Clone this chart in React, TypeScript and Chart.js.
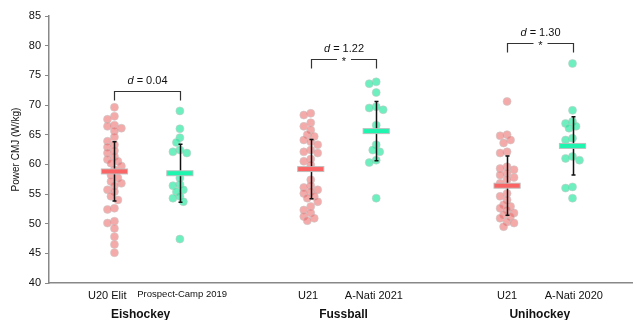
import React, { useEffect, useRef } from "react";
import { Chart, registerables } from "chart.js";

Chart.register(...registerables);

// ---------- data ----------
const tickLabels = ["U20 Elit", "Prospect-Camp 2019", "U21", "A-Nati 2021", "U21", "A-Nati 2020"];
const groupPositions = [0, 1, 3, 4, 6, 7];
const tickLabelPositions = [-0.11, 1.035, 2.96, 3.965, 6.0, 7.02];
const sports = ["Eishockey", "Fussball", "Unihockey"];
const sportPositions = [0.4, 3.5, 6.5];
const effectSizes = ["0.04", "1.22", "1.30"];
const significant = [false, true, true];
const bracketLevels = [72.4, 77.7, 80.4];

const u20Elit = [69.6, 68.1, 67.6, 66.6, 66.4, 66.1, 65.6, 64.6, 63.9, 63.3, 62.9, 62.3, 61.9, 61.3, 60.8, 60.5, 60.2, 59.7, 59.1, 58.2, 57.7, 57.1, 56.8, 56.4, 55.7, 55.4, 54.6, 54.0, 52.6, 52.4, 50.4, 50.1, 49.2, 47.8, 46.5, 45.1];
const prospectCamp = [69.0, 66.0, 64.5, 63.7, 62.4, 62.1, 61.9, 57.7, 56.6, 56.4, 55.7, 55.4, 54.6, 54.3, 53.7, 47.4];
const fussU21 = [68.6, 68.3, 67.0, 66.4, 65.8, 65.0, 64.7, 64.1, 63.8, 63.3, 62.4, 62.1, 61.9, 60.9, 60.5, 59.9, 57.4, 56.4, 56.1, 55.7, 55.4, 55.1, 54.6, 54.3, 53.7, 52.9, 52.3, 51.8, 51.2, 50.9, 50.5];
const fussANati = [73.9, 73.6, 72.1, 69.7, 69.5, 69.2, 66.6, 63.3, 62.4, 62.1, 60.7, 60.3, 54.3];
const uniU21 = [70.6, 65.0, 64.8, 64.1, 63.6, 62.1, 61.9, 59.6, 59.3, 59.1, 58.5, 58.2, 57.8, 57.4, 56.8, 55.1, 54.6, 54.0, 53.2, 52.9, 52.6, 52.3, 51.8, 51.5, 51.2, 50.9, 50.3, 50.1, 49.5];
const uniANati = [77.0, 69.1, 67.2, 66.9, 66.4, 66.1, 64.4, 64.1, 61.3, 61.0, 60.7, 56.2, 56.0, 54.3];

const groupValues = [u20Elit, prospectCamp, fussU21, fussANati, uniU21, uniANati];
const groupMeans = [58.8, 58.5, 59.2, 65.6, 56.4, 63.1];
const groupSDs = [5.0, 4.9, 5.0, 5.0, 5.0, 4.9];

const yTicks = [40, 45, 50, 55, 60, 65, 70, 75, 80, 85];

// ---------- styles ----------
const FONT = "'Liberation Sans', Arial, sans-serif";
const RED_PT = "rgba(236, 100, 100, 0.55)";
const GREEN_PT = "rgba(40, 232, 160, 0.68)";
const RED_BAR = "#FA6464";
const GREEN_BAR = "#1EF5AE";
const PX_PER_X = 66;
const PX_PER_Y = 5.93;

// deterministic compact beeswarm (pixel offsets converted to x units)
function swarm(values: number[], center: number) {
  const placed: { dx: number; y: number }[] = [];
  const cands = [0, -3.5, 3.5, -7, 7];
  const minD = 5.5;
  return values.map((v) => {
    const y = v * PX_PER_Y;
    let best = 0;
    let bestScore = -1;
    for (const c of cands) {
      const d = placed.reduce((m, p) => Math.min(m, Math.hypot(p.dx - c, p.y - y)), 999);
      if (d >= minD) { best = c; bestScore = 999; break; }
      if (d > bestScore) { bestScore = d; best = c; }
    }
    placed.push({ dx: best, y });
    return { x: center + best / PX_PER_X, y: v };
  });
}

const overlayPlugin = {
  id: "overlay",
  afterDatasetsDraw(chart: any) {
    const { ctx, scales } = chart;
    const xs = scales.x;
    const ys = scales.y;
    ctx.save();
    // error bars
    groupPositions.forEach((pos, i) => {
      const x = Math.round(xs.getPixelForValue(pos)) + 0.5;
      const top = ys.getPixelForValue(groupMeans[i] + groupSDs[i]);
      const bot = ys.getPixelForValue(groupMeans[i] - groupSDs[i]);
      ctx.strokeStyle = "#111";
      ctx.lineWidth = 1.5;
      ctx.beginPath();
      ctx.moveTo(x, top);
      ctx.lineTo(x, bot);
      ctx.moveTo(x - 2, top);
      ctx.lineTo(x + 2, top);
      ctx.moveTo(x - 2, bot);
      ctx.lineTo(x + 2, bot);
      ctx.stroke();
    });
    // mean bars
    groupPositions.forEach((pos, i) => {
      const x0 = xs.getPixelForValue(pos - 0.2);
      const x1 = xs.getPixelForValue(pos + 0.2);
      const y = ys.getPixelForValue(groupMeans[i]);
      ctx.fillStyle = i % 2 === 0 ? RED_BAR : GREEN_BAR;
      ctx.strokeStyle = "rgba(190,190,190,0.9)";
      ctx.lineWidth = 1;
      ctx.fillRect(x0, y - 2.5, x1 - x0, 5);
      ctx.strokeRect(x0, y - 2.5, x1 - x0, 5);
    });
    // brackets + effect sizes
    sports.forEach((_, s) => {
      const xa = Math.round(xs.getPixelForValue(groupPositions[2 * s])) + 0.5;
      const xb = Math.round(xs.getPixelForValue(groupPositions[2 * s + 1])) + 0.5;
      const yt = Math.round(ys.getPixelForValue(bracketLevels[s])) + 0.5;
      const yl = yt + 9;
      const xm = (xa + xb) / 2;
      ctx.strokeStyle = "#333";
      ctx.lineWidth = 1.2;
      ctx.beginPath();
      if (significant[s]) {
        ctx.moveTo(xa, yl);
        ctx.lineTo(xa, yt);
        ctx.lineTo(xm - 7, yt);
        ctx.moveTo(xm + 7, yt);
        ctx.lineTo(xb, yt);
        ctx.lineTo(xb, yl);
      } else {
        ctx.moveTo(xa, yl);
        ctx.lineTo(xa, yt);
        ctx.lineTo(xb, yt);
        ctx.lineTo(xb, yl);
      }
      ctx.stroke();
      ctx.fillStyle = "#111";
      ctx.textBaseline = "middle";
      if (significant[s]) {
        ctx.font = `11px ${FONT}`;
        ctx.textAlign = "center";
        ctx.fillText("*", xm, yt + 2);
      }
      const rest = " = " + effectSizes[s];
      ctx.font = `italic 11px ${FONT}`;
      const wd = ctx.measureText("d").width;
      ctx.font = `11px ${FONT}`;
      const wr = ctx.measureText(rest).width;
      const start = xm - (wd + wr) / 2;
      const ty = yt - 10.5;
      ctx.textAlign = "left";
      ctx.font = `italic 11px ${FONT}`;
      ctx.fillText("d", start, ty);
      ctx.font = `11px ${FONT}`;
      ctx.fillText(rest, start + wd, ty);
    });
    // sport labels
    ctx.font = `bold 12px ${FONT}`;
    ctx.fillStyle = "#111";
    ctx.textAlign = "center";
    ctx.textBaseline = "middle";
    sports.forEach((name, s) => {
      ctx.fillText(name, xs.getPixelForValue(sportPositions[s]), 315);
    });
    ctx.restore();
  },
};

export default function App() {
  const ref = useRef<HTMLCanvasElement | null>(null);
  useEffect(() => {
    if (!ref.current) return;
    const datasets = groupValues.map((vals, i) => ({
      label: tickLabels[i],
      data: swarm(vals, groupPositions[i]),
      backgroundColor: i % 2 === 0 ? RED_PT : GREEN_PT,
      borderColor: "rgba(200,200,200,0.55)",
      borderWidth: 1,
      pointRadius: 4,
      pointHoverRadius: 4,
    }));
    const chart = new Chart(ref.current, {
      type: "scatter",
      data: { datasets },
      plugins: [overlayPlugin],
      options: {
        animation: false,
        responsive: false,
        layout: { padding: { top: 16, left: 0, right: 0, bottom: 0 } },
        plugins: { legend: { display: false }, tooltip: { enabled: false } },
        scales: {
          x: {
            type: "linear",
            min: -1,
            max: 7.909,
            afterBuildTicks: (scale: any) => {
              scale.ticks = tickLabelPositions.map((v) => ({ value: v }));
            },
            afterFit: (scale: any) => {
              scale.height = 37;
            },
            grid: { display: true, drawOnChartArea: false, drawTicks: false },
            border: { display: true, color: "#888", width: 1.5 },
            ticks: {
              autoSkip: false,
              maxRotation: 0,
              padding: 6,
              color: "#111",
              font: (c: any) => ({ family: FONT, size: c.index === 1 ? 9.5 : 11 }),
              callback: (v: any, idx: number) => tickLabels[idx] ?? "",
            },
          },
          y: {
            min: 40,
            max: 85,
            afterBuildTicks: (scale: any) => {
              scale.ticks = yTicks.map((v) => ({ value: v }));
            },
            afterFit: (scale: any) => {
              scale.width = 49;
            },
            grid: { drawOnChartArea: false, drawTicks: true, tickLength: 4, color: "#888", lineWidth: 1 },
            border: { display: true, color: "#888", width: 1.5 },
            ticks: { padding: 4, color: "#111", font: { family: FONT, size: 11 } },
            title: {
              display: true,
              text: "Power CMJ (W/kg)",
              color: "#111",
              font: { family: FONT, size: 10 },
              padding: { top: 10, bottom: 0 },
            },
          },
        },
      },
    });
    return () => chart.destroy();
  }, []);
  return (
    <div style={{ position: "absolute", left: 0, top: 0, width: 637, height: 320, background: "#fff" }}>
      <canvas ref={ref} width={637} height={320} style={{ display: "block" }} />
    </div>
  );
}
